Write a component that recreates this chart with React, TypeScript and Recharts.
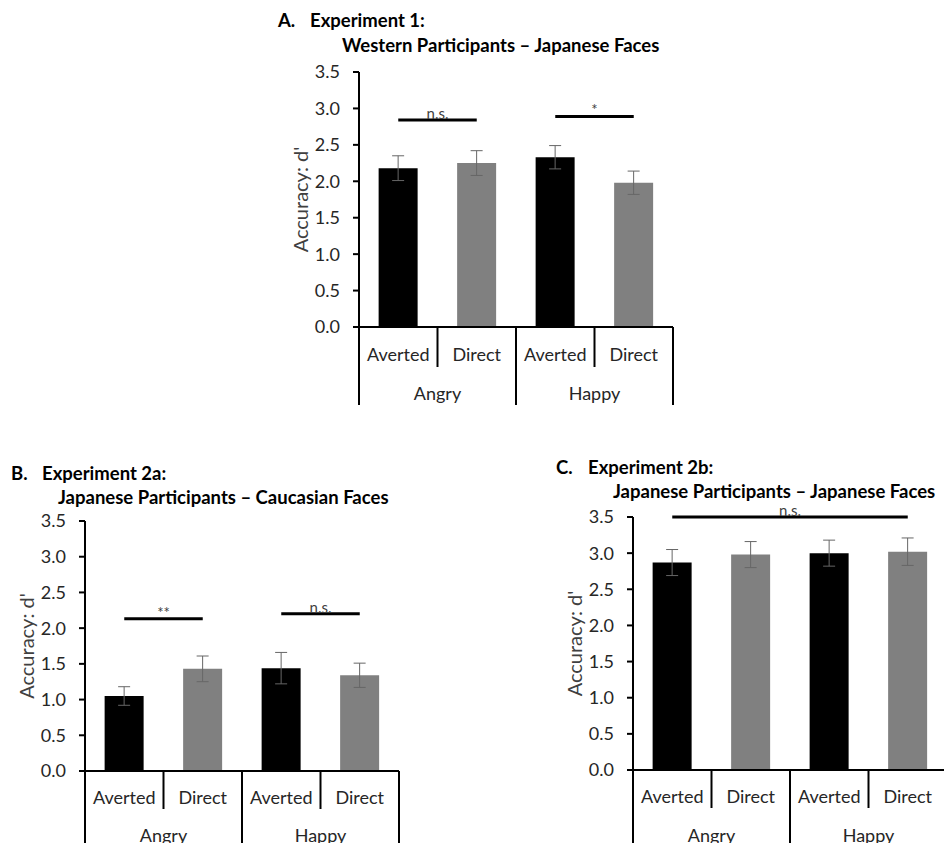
import React from "react";
import { Bar, BarChart, Cell, ErrorBar, ReferenceLine, XAxis, YAxis } from "recharts";

const conditions = ["Averted", "Direct", "Averted", "Direct"];
const emotions = ["Angry", "Angry", "Happy", "Happy"];
const yTicks = [0, 0.5, 1, 1.5, 2, 2.5, 3, 3.5];

// Experiment 1: Western participants, Japanese faces
const exp1Means = [2.18, 2.25, 2.33, 1.98];
const exp1Errors = [0.17, 0.17, 0.16, 0.16];
// Experiment 2a: Japanese participants, Caucasian faces
const exp2aMeans = [1.05, 1.43, 1.44, 1.34];
const exp2aErrors = [0.13, 0.18, 0.22, 0.17];
// Experiment 2b: Japanese participants, Japanese faces
const exp2bMeans = [2.87, 2.98, 3.0, 3.02];
const exp2bErrors = [0.18, 0.18, 0.18, 0.19];

type Sig = { from: number; to: number; y: number; label: string };
const exp1Sig: Sig[] = [
  { from: 0, to: 1, y: 2.84, label: "n.s." },
  { from: 2, to: 3, y: 2.89, label: "*" },
];
const exp2aSig: Sig[] = [
  { from: 0, to: 1, y: 2.13, label: "**" },
  { from: 2, to: 3, y: 2.2, label: "n.s." },
];
const exp2bSig: Sig[] = [{ from: 0, to: 3, y: 3.5, label: "n.s." }];

const FONT = "Lato, 'Open Sans', sans-serif";
const TEXT = "#262626";

type Row = { id: string; condition: string; emotion: string; mean: number; err: number };

const buildData = (means: number[], errs: number[]): Row[] =>
  conditions.map((c, i) => ({
    id: `${emotions[i]}-${c}`,
    condition: c,
    emotion: emotions[i],
    mean: means[i],
    err: errs[i],
  }));

type Rows = { label: number; short: number; group: number; long: number };

// two-level category axis: condition on top, emotion below, Excel-style dividers
function GroupedTick(props: any) {
  const { x, y, index, band, data, rows } = props;
  const half = band / 2;
  const start = index % 2 === 0;
  const last = index === data.length - 1;
  const d: Row = data[index];
  return (
    <g>
      <line x1={x - half} x2={x - half} y1={y} y2={y + (start ? rows.long : rows.short)} stroke="#000" strokeWidth={2} />
      {last && <line x1={x + half} x2={x + half} y1={y} y2={y + rows.long} stroke="#000" strokeWidth={2} />}
      <text x={x} y={y + rows.label} textAnchor="middle" dominantBaseline="central" fontSize={18} fill={TEXT} fontFamily={FONT}>
        {d.condition}
      </text>
      {start && (
        <text x={x + half} y={y + rows.group} textAnchor="middle" dominantBaseline="central" fontSize={18} fill={TEXT} fontFamily={FONT}>
          {d.emotion}
        </text>
      )}
    </g>
  );
}

type PanelProps = {
  left: number;
  top: number;
  width: number;
  height: number;
  margin: { top: number; right: number; bottom: number; left: number };
  yAxisWidth: number;
  xAxisHeight: number;
  means: number[];
  errors: number[];
  sig: Sig[];
  rows: Rows;
};

function Panel(p: PanelProps) {
  const data = buildData(p.means, p.errors);
  const plotWidth = p.width - p.margin.left - p.margin.right - p.yAxisWidth;
  const band = plotWidth / data.length;
  return (
    <div style={{ position: "absolute", left: p.left, top: p.top }}>
      <BarChart width={p.width} height={p.height} data={data} margin={p.margin} barCategoryGap="25%">
        <XAxis
          dataKey="id"
          interval={0}
          tickLine={false}
          tickSize={0}
          tickMargin={0}
          height={p.xAxisHeight}
          axisLine={{ stroke: "#000", strokeWidth: 2 }}
          tick={(t: any) => <GroupedTick {...t} band={band} data={data} rows={p.rows} />}
        />
        <YAxis
          width={p.yAxisWidth}
          domain={[0, 3.5]}
          ticks={yTicks}
          interval={0}
          tickFormatter={(v: number) => v.toFixed(1)}
          axisLine={{ stroke: "#000", strokeWidth: 2 }}
          tickLine={{ stroke: "#000", strokeWidth: 2 }}
          tickSize={6}
          tickMargin={13}
          tick={{ fontSize: 18, fill: TEXT, fontFamily: FONT }}
          label={{
            content: (lp: any) => {
              const vb = lp.viewBox;
              const cx = vb.x + vb.width - 59;
              const cy = vb.y + vb.height / 2;
              return (
                <text
                  x={cx}
                  y={cy}
                  transform={`rotate(-90 ${cx} ${cy})`}
                  textAnchor="middle"
                  dominantBaseline="central"
                  fontSize={20}
                  fill="#404040"
                  fontFamily={FONT}
                >
                  Accuracy: d'
                </text>
              );
            },
          }}
        />
        <Bar dataKey="mean" isAnimationActive={false}>
          {data.map((d) => (
            <Cell key={d.id} fill={d.condition === "Averted" ? "#000000" : "#808080"} />
          ))}
          <ErrorBar dataKey="err" direction="y" width={6} stroke="#666666" strokeWidth={1} isAnimationActive={false} />
        </Bar>
        {p.sig.map((s) => (
          <ReferenceLine
            key={s.label + s.from}
            segment={[
              { x: data[s.from].id, y: s.y },
              { x: data[s.to].id, y: s.y },
            ]}
            stroke="#000"
            strokeWidth={3}
            ifOverflow="visible"
            label={{ value: s.label, position: "top", fill: "#404040", fontSize: 15, fontFamily: FONT, offset: 1 }}
          />
        ))}
      </BarChart>
    </div>
  );
}

const titleStyle: React.CSSProperties = {
  position: "absolute",
  fontFamily: FONT,
  fontWeight: 700,
  fontSize: 18.5,
  lineHeight: "22px",
  color: "#000",
  whiteSpace: "nowrap",
};

export default function App() {
  return (
    <div style={{ position: "absolute", left: 0, top: 0, width: 944, height: 843, overflow: "hidden", background: "#fff" }}>
      <div style={{ ...titleStyle, left: 278, top: 9 }}>A.</div>
      <div style={{ ...titleStyle, left: 310, top: 9 }}>Experiment 1:</div>
      <div style={{ ...titleStyle, left: 342, top: 34 }}>Western Participants – Japanese Faces</div>

      <div style={{ ...titleStyle, left: 11, top: 462 }}>B.</div>
      <div style={{ ...titleStyle, left: 42, top: 462 }}>Experiment 2a:</div>
      <div style={{ ...titleStyle, left: 58, top: 486 }}>Japanese Participants – Caucasian Faces</div>

      <div style={{ ...titleStyle, left: 556, top: 456 }}>C.</div>
      <div style={{ ...titleStyle, left: 588, top: 456 }}>Experiment 2b:</div>
      <div style={{ ...titleStyle, left: 613, top: 480 }}>Japanese Participants – Japanese Faces</div>

      <Panel
        left={250}
        top={60}
        width={440}
        height={360}
        margin={{ top: 12, right: 17, bottom: 13, left: 29 }}
        yAxisWidth={80}
        xAxisHeight={80}
        means={exp1Means}
        errors={exp1Errors}
        sig={exp1Sig}
        rows={{ label: 27, short: 40, group: 66, long: 78 }}
      />
      <Panel
        left={0}
        top={500}
        width={420}
        height={343}
        margin={{ top: 21, right: 21, bottom: 0, left: 5 }}
        yAxisWidth={80}
        xAxisHeight={72}
        means={exp2aMeans}
        errors={exp2aErrors}
        sig={exp2aSig}
        rows={{ label: 26, short: 38, group: 64, long: 80 }}
      />
      <Panel
        left={520}
        top={500}
        width={440}
        height={343}
        margin={{ top: 17, right: 13, bottom: 0, left: 33 }}
        yAxisWidth={80}
        xAxisHeight={73}
        means={exp2bMeans}
        errors={exp2bErrors}
        sig={exp2bSig}
        rows={{ label: 26, short: 38, group: 65, long: 80 }}
      />
    </div>
  );
}
